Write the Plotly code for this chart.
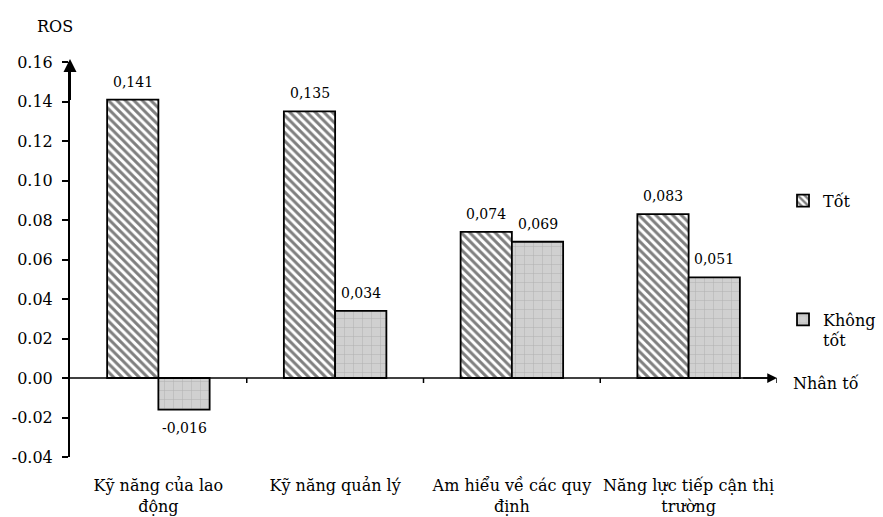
import plotly.graph_objects as go

categories = ["Kỹ năng của lao<br>động", "Kỹ năng quản lý", "Am hiểu về các quy<br>định", "Năng lực tiếp cận thị<br>trường"]
tot = [0.141, 0.135, 0.074, 0.083]
khong_tot = [-0.016, 0.034, 0.069, 0.051]
y_ticks = [-0.04, -0.02, 0.00, 0.02, 0.04, 0.06, 0.08, 0.10, 0.12, 0.14, 0.16]

FONT = "DejaVu Serif"

def lab(v):
    return f"{v:.3f}".replace(".", ",")

fig = go.Figure()
fig.add_trace(go.Bar(
    x=categories, y=tot, name="Tốt", legendgroup="a",
    marker=dict(color="white", line=dict(color="black", width=1.8),
                pattern=dict(shape="\\", fgcolor="black", bgcolor="white", size=6, solidity=0.5)),
))
fig.add_trace(go.Bar(
    x=categories, y=khong_tot, name="Không<br>tốt", legendgroup="b",
    marker=dict(color="#cfcfcf", line=dict(color="black", width=1.8),
                pattern=dict(shape="+", fgcolor="#8a8a8a", bgcolor="#d0d0d0", size=9, solidity=0.1)),
))

W, H = 883, 517
L, R, T, B = 70, 106, 62, 60
pw, ph = W - L - R, H - T - B
zero_paper = 0.04 / 0.20
bargap = 0.42
half_bar_px = (pw / len(categories)) * (1 - bargap) / 4

fig.add_shape(type="line", xref="x", yref="y", x0=-0.5, x1=3.45, y0=0, y1=0,
              line=dict(color="black", width=1.5))
for b in [0.5, 1.5, 2.5, 3.5]:
    fig.add_shape(type="line", xref="x", yref="paper", x0=b, x1=b,
                  y0=zero_paper - 5 / ph, y1=zero_paper,
                  line=dict(color="black", width=1.5))

annotations = []
# data labels
for series, sign in ((tot, -1), (khong_tot, 1)):
    for c, v in zip(categories, series):
        annotations.append(dict(
            x=c, y=v, xref="x", yref="y", text=lab(v), showarrow=False,
            xshift=sign * half_bar_px, yshift=18 if v >= 0 else -18,
            xanchor="center", yanchor="middle",
            font=dict(family=FONT, size=14, color="black")))

annotations += [
    dict(x=3.5, y=0, ax=3.3, ay=0, xref="x", yref="y", axref="x", ayref="y",
         showarrow=True, arrowhead=2, arrowsize=1.3, arrowwidth=1.5, arrowcolor="black", text=""),
    dict(x=-0.5, y=0.1615, ax=-0.5, ay=0.14, xref="x", yref="y", axref="x", ayref="y",
         showarrow=True, arrowhead=2, arrowsize=1.3, arrowwidth=2, arrowcolor="black", text=""),
]
pixel_annots = [
    dict(x=55, y=27, text="ROS", showarrow=False,
         font=dict(family=FONT, size=16, color="black")),
    dict(x=826, y=383, text="Nhân tố", showarrow=False,
         font=dict(family=FONT, size=16, color="black")),
]
for a in pixel_annots:
    a["x"] = (a["x"] - L) / pw
    a["y"] = (H - B - a["y"]) / ph
    a["xref"] = "paper"
    a["yref"] = "paper"
    a["xanchor"] = "center"
    a["yanchor"] = "middle"
    annotations.append(a)

fig.update_layout(
    width=W, height=H,
    margin=dict(l=L, r=R, t=T, b=B, autoexpand=False),
    paper_bgcolor="white", plot_bgcolor="white",
    barmode="group", bargap=bargap, bargroupgap=0,
    font=dict(family=FONT, size=16, color="black"),
    showlegend=True,
    legend=dict(x=1.0085, y=0.692, xanchor="left", yanchor="top", tracegroupgap=95,
                valign="top", font=dict(family=FONT, size=16, color="black"),
                bgcolor="rgba(0,0,0,0)", itemwidth=30),
    xaxis=dict(showline=False, ticks="", showgrid=False, zeroline=False,
               range=[-0.5, 3.5], ticklabelstandoff=17,
               tickfont=dict(family=FONT, size=16, color="black")),
    yaxis=dict(range=[-0.04, 0.16], tickvals=y_ticks, ticktext=[f"{v:.2f}" for v in y_ticks],
               showline=True, linecolor="black", linewidth=2, ticks="outside",
               ticklen=6, tickwidth=1.5, tickcolor="black", showgrid=False, zeroline=False,
               ticklabelstandoff=6,
               tickfont=dict(family=FONT, size=16, color="black")),
    annotations=annotations,
)
fig.write_html("out.html")
